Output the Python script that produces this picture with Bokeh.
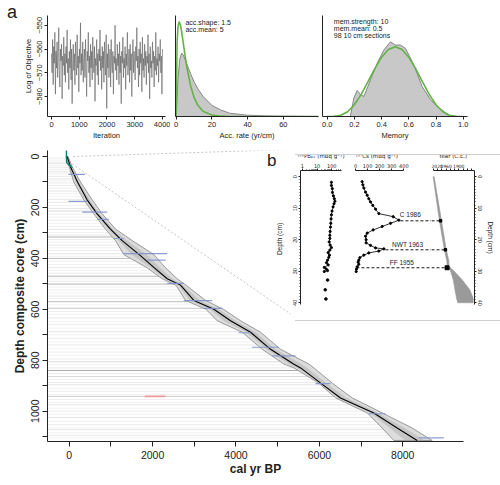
import numpy as np
from bokeh.plotting import figure
from bokeh.models import FixedTicker, Range1d, Label, Div, BasicTickFormatter
from bokeh.layouts import row, column
from bokeh.embed import file_html
from bokeh.resources import INLINE

FONT = "Liberation Sans"
INK = "#222222"

# ---------------- panel a: MCMC diagnostics ----------------
log_objective = [
    -562, -570, -556, -575, -559, -566, -553, -579, -561, -568, -557, -572, -564, -551, -569, -576, -560, -565, -558, -581,
    -563, -567, -555, -571, -562, -574, -559, -566, -552, -570, -564, -577, -561, -568, -556, -573, -560, -583, -565, -558,
    -569, -562, -575, -557, -566, -571, -554, -568, -563, -578, -560, -566, -549, -571, -562, -569, -557, -574, -564, -560,
    -572, -556, -567, -580, -561, -565, -553, -570, -563, -576, -558, -568, -561, -573, -555, -566, -570, -559, -582, -564,
    -567, -556, -571, -562, -575, -560, -565, -552, -569, -563, -577, -559, -568, -561, -574, -557, -566, -571, -554, -585,
    -562, -568, -558, -572, -565, -560, -576, -556, -567, -570, -561, -579, -563, -566, -550, -569, -564, -573, -558, -567,
    -562, -575, -557, -570, -563, -583, -561, -566, -555, -572, -564, -568, -559, -577, -562, -567, -553, -571, -565, -560,
    -574, -558, -569, -562, -580, -564, -556, -570, -561, -567, -573, -559, -565, -551, -568, -563, -576, -560, -571, -557,
    -566, -562, -578, -555, -569, -564, -572, -558, -567, -561, -575, -563, -566, -554, -570, -562, -581, -559, -568, -565,
    -572, -557, -566, -561, -576, -563, -569, -553, -571, -564, -567, -559, -574, -562, -565, -556, -570, -563, -579, -560,
]
iterations = np.linspace(0, 4000, len(log_objective))

acc_x = [0, 0.5, 1, 1.67, 2.5, 3, 4, 5, 6, 8, 10, 12, 15, 20, 25, 30, 40, 60, 80]
acc_prior = [0, 0.1128, 0.1374, 0.1452, 0.1385, 0.1306, 0.1117, 0.0925, 0.0751, 0.0476, 0.0292,
             0.0175, 0.0080, 0.0021, 0.0005, 0.0001, 0, 0, 0]
acc_post_x = [0, 0.5, 1, 2, 3, 4, 5, 6, 8, 10, 12, 15, 20, 25, 30, 40, 50, 60, 80]
acc_post = [0, 0.030, 0.058, 0.088, 0.097, 0.094, 0.087, 0.080, 0.066, 0.053, 0.043, 0.031,
            0.017, 0.010, 0.005, 0.002, 0.001, 0.0005, 0]

mem_x = [0, 0.05, 0.1, 0.15, 0.2, 0.25, 0.3, 0.35, 0.4, 0.45, 0.5,
         0.55, 0.6, 0.65, 0.7, 0.75, 0.8, 0.85, 0.9, 0.95, 1.0]
mem_prior = [0, 0.0032, 0.0413, 0.1665, 0.4129, 0.7787, 1.2252, 1.688, 2.090, 2.364, 2.461,
             2.364, 2.090, 1.688, 1.2252, 0.7787, 0.4129, 0.1665, 0.0413, 0.0032, 0]
mem_post_x = [0.17, 0.196, 0.22, 0.245, 0.27, 0.318, 0.368, 0.416, 0.465, 0.502, 0.539,
              0.576, 0.637, 0.698, 0.76, 0.82, 0.857, 0.894]
mem_post = [0, 0.65, 0.92, 0.77, 0.71, 1.29, 1.88, 2.34, 2.63, 2.52, 2.52,
            2.40, 1.82, 1.06, 0.59, 0.30, 0.19, 0.01]

# ---------------- age-depth model ----------------
model_depth = [0, 40, 100, 170, 225, 285, 330, 385, 435, 480, 505, 565, 600, 645, 690, 757, 815, 830, 890, 948, 1007, 1066, 1115]
model_median = [-50, 30, 200, 430, 670, 990, 1270, 1680, 2030, 2350, 2670, 2990, 3470, 3870, 4350, 4830, 5380, 5550, 6030, 6506, 7305, 7865, 8345]
model_lower = [-75, 0, 110, 350, 590, 870, 1110, 1310, 1850, 2230, 2560, 2790, 3280, 3550, 4150, 4630, 5150, 5390, 5985, 6390, 7150, 7505, 7785]
model_upper = [-25, 70, 271, 551, 791, 1113, 1510, 2030, 2300, 2590, 2800, 3270, 3700, 4110, 4590, 5070, 5750, 5870, 6310, 6790, 7510, 8225, 8705]
model_core_lo = [-62, 15, 155, 390, 630, 930, 1190, 1495, 1940, 2290, 2615, 2890, 3375, 3710, 4250, 4730, 5265, 5470, 6008, 6448, 7228, 7685, 8065]
model_core_hi = [-38, 50, 235, 490, 730, 1050, 1390, 1855, 2165, 2470, 2735, 3130, 3585, 3990, 4470, 4950, 5565, 5710, 6170, 6648, 7408, 8045, 8525]

date_depth = [70, 176, 218, 247, 322, 381, 407, 498, 566, 596, 692, 749, 783, 892, 1010, 1105]
date_age_lo = [-20, -17, 312, 671, 1063, 1303, 1870, 2350, 2748, 3221, 4060, 4388, 4868, 5906, 7185, 8384]
date_age_hi = [380, 440, 911, 950, 1303, 2350, 2310, 2748, 3429, 3669, 4350, 5026, 5427, 6266, 7585, 8983]
outlier_depth = [942]
outlier_age_lo = [1813]
outlier_age_hi = [2309]

pb_model_depth = [-35, 0, 23, 32, 43]
pb_model_age = [-66, -66, -62, -20, 79]

hatch_depth = [6, 14, 22, 28, 36, 44, 52, 60, 68, 78, 88, 96, 104, 114, 124, 136, 146, 158, 168, 180, 192, 204,
               214, 226, 238, 250, 262, 274, 286, 298, 308, 316, 326, 336, 348, 358, 370, 382, 392, 400, 412,
               424, 436, 448, 458, 470, 480, 490, 501, 512, 524, 536, 548, 558, 570, 582, 596, 608, 620, 634,
               648, 660, 674, 688, 700, 714, 728, 740, 754, 768, 782, 795, 806, 818, 830, 840, 852, 864, 876,
               888, 896, 910, 922, 934, 942, 954, 966, 975, 988, 1000, 1012, 1025, 1040, 1053, 1065, 1072,
               1085, 1095, 1105]
hatch_alpha = [0.08, 0.06, 0.08, 0.1, 0.06, 0.09, 0.07, 0.1, 0.06, 0.08, 0.1, 0.06, 0.08, 0.09, 0.06, 0.1, 0.07,
               0.06, 0.09, 0.08, 0.06, 0.1, 0.14, 0.07, 0.06, 0.09, 0.06, 0.08, 0.1, 0.06, 0.08, 0.3, 0.07,
               0.06, 0.09, 0.06, 0.08, 0.1, 0.06, 0.26, 0.07, 0.06, 0.08, 0.06, 0.08, 0.3, 0.06, 0.09, 0.3,
               0.06, 0.08, 0.06, 0.09, 0.07, 0.26, 0.06, 0.22, 0.08, 0.06, 0.09, 0.06, 0.08, 0.06, 0.1, 0.06,
               0.08, 0.06, 0.09, 0.06, 0.07, 0.06, 0.08, 0.15, 0.06, 0.09, 0.35, 0.08, 0.15, 0.06, 0.09, 0.1,
               0.06, 0.08, 0.06, 0.22, 0.07, 0.06, 0.1, 0.06, 0.08, 0.06, 0.1, 0.06, 0.09, 0.06, 0.1, 0.06,
               0.08, 0.06]

# ---------------- panel b: 210Pb / 137Cs / CRS ages ----------------
pb210_depth = [1.8, 2.8, 3.8, 5.0, 6.1, 7.0, 7.8, 8.6, 9.6, 10.9, 12.1, 13.4, 14.8, 16.0, 17.4, 18.6, 19.6,
               20.7, 21.7, 22.5, 23.3, 24.1, 24.9, 25.6, 26.5, 27.3, 28.0, 28.8, 29.3, 29.8, 30.1]
pb210_value = [95, 95, 110, 112, 130, 150, 165, 143, 123, 105, 95, 90, 86, 82, 78, 74, 74,
               67, 78, 95, 74, 57, 70, 63, 52, 44, 57, 31, 42, 52, 31]
pb210_deep_depth = [32.8, 35.9, 38.8]
pb210_deep_value = [52, 36, 40]

cs137_depth = [1.6, 2.6, 3.6, 4.9, 5.9, 7.0, 8.0, 9.1, 10.3, 11.7, 12.7, 13.8, 14.8, 15.8, 16.9, 17.9, 18.9,
               20.0, 21.0, 21.8, 22.6, 22.9, 23.6, 24.2, 24.9, 25.7, 26.5, 27.1, 27.8, 28.6, 29.3, 30.1]
cs137_value = [55, 61, 69, 83, 97, 110, 124, 143, 166, 193, 312, 359, 290, 221, 146, 97, 83,
               88, 88, 124, 166, 235, 193, 110, 69, 36, 27, 22, 27, 14, 8, 6]

year_band_depth = [0, 13.7, 22.8, 26.6, 28.5, 29.7, 32.8, 35.9, 38.5, 40]
year_band_young = [2021, 1992, 1969, 1957, 1954, 1940, 1926, 1918, 1911, 1905]
year_band_old = [2016, 1982, 1960, 1947, 1946, 1926, 1883, 1848, 1832, 1832]

event_label = ["C 1986", "NWT 1963", "FF 1955"]
event_depth = [14.0, 23.2, 28.9]
event_year = [1986, 1963, 1955]
event_cs = [372, 248, 8]
event_label_x = [367, 303, 283]
event_label_depth = [12.1, 21.6, 27.2]


def base_fig(**kw):
    p = figure(output_backend="svg", toolbar_location=None, **kw)
    p.grid.visible = False
    p.outline_line_color = None
    return p


def style_axis(ax, size, tick_out=4, standoff=3, title_size=None, bold=False, font=FONT):
    ax.axis_line_color = INK
    ax.axis_line_width = 1
    ax.major_tick_line_color = INK
    ax.major_tick_out = tick_out
    ax.major_tick_in = 0
    ax.minor_tick_line_color = None
    ax.major_label_text_font = font
    ax.major_label_text_font_size = size
    ax.major_label_text_color = INK
    ax.major_label_standoff = standoff
    ax.axis_label_text_font = font
    ax.axis_label_text_font_size = title_size or size
    ax.axis_label_text_font_style = "bold" if bold else "normal"
    ax.axis_label_text_color = INK
    ax.axis_label_standoff = 2


# ---- a1: trace ----
f1 = base_fig(width=170, height=142, x_range=Range1d(-144, 4108), y_range=Range1d(-588.4, -545.9),
              min_border_left=47, min_border_right=5, min_border_top=15, min_border_bottom=24)
f1.line(iterations, log_objective, line_color="#5c5c5c", line_width=0.6)
style_axis(f1.xaxis[0], "7.5px", tick_out=3, standoff=2)
style_axis(f1.yaxis[0], "7.5px", tick_out=3, standoff=2)
f1.xaxis.ticker = FixedTicker(ticks=[0, 1000, 2000, 3000, 4000])
f1.yaxis.ticker = FixedTicker(ticks=[-550, -560, -570, -580])
f1.xaxis.axis_label = "Iteration"
f1.yaxis.axis_label = "Log of Objective"
f1.xaxis.axis_label_standoff = 1
f1.yaxis.major_label_orientation = "vertical"

# ---- a2: accumulation rate ----
f2 = base_fig(width=150, height=142, x_range=Range1d(-0.39, 79.7), y_range=Range1d(0, 0.1545),
              min_border_left=5, min_border_right=2, min_border_top=15, min_border_bottom=24)
f2.varea(x=acc_post_x, y1=0, y2=acc_post, fill_color="#c8c8c8")
f2.line(acc_post_x, acc_post, line_color="#6e6e6e", line_width=0.8)
f2.line(acc_x, acc_prior, line_color="#62b345", line_width=1.6)
style_axis(f2.xaxis[0], "7.5px", tick_out=3, standoff=2)
style_axis(f2.yaxis[0], "7.5px", tick_out=0, standoff=0)
f2.xaxis.ticker = FixedTicker(ticks=[0, 20, 40, 60])
f2.yaxis.ticker = FixedTicker(ticks=[])
f2.xaxis.axis_label = "Acc. rate (yr/cm)"
f2.xaxis.axis_label_standoff = 1
for txt, yy in [("acc.shape: 1.5", 0.138), ("acc.mean: 5", 0.127)]:
    f2.add_layout(Label(x=5.2, y=yy, text=txt, text_font=FONT, text_font_size="7px", text_color=INK))

# ---- a3: memory ----
f3 = base_fig(width=172, height=142, x_range=Range1d(-0.0346, 1.0316), y_range=Range1d(0, 3.56),
              min_border_left=2, min_border_right=25, min_border_top=15, min_border_bottom=24)
f3.varea(x=mem_post_x, y1=0, y2=mem_post, fill_color="#c8c8c8")
f3.line(mem_post_x, mem_post, line_color="#6e6e6e", line_width=0.8)
f3.line(mem_x, mem_prior, line_color="#62b345", line_width=1.6)
style_axis(f3.xaxis[0], "7.5px", tick_out=3, standoff=2)
style_axis(f3.yaxis[0], "7.5px", tick_out=0, standoff=0)
f3.xaxis.ticker = FixedTicker(ticks=[0, 0.2, 0.4, 0.6, 0.8, 1.0])
f3.xaxis.major_label_overrides = {0: "0.0", 0.2: "0.2", 0.4: "0.4", 0.6: "0.6", 0.8: "0.8", 1: "1.0"}
f3.yaxis.ticker = FixedTicker(ticks=[])
f3.xaxis.axis_label = "Memory"
f3.xaxis.axis_label_standoff = 1
for txt, yy in [("mem.strength: 10", 3.24), ("mem.mean: 0.5", 2.98), ("98 10 cm sections", 2.72)]:
    f3.add_layout(Label(x=0.0485, y=yy, text=txt, text_font=FONT, text_font_size="7px", text_color=INK))

# ---- main age-depth plot ----
X0, X1 = -520, 9456
pm = base_fig(width=492, height=336, x_range=Range1d(X0, X1), y_range=Range1d(1119, -23.6),
              min_border_left=47, min_border_right=29, min_border_top=8, min_border_bottom=37)
hatch_end = np.interp(hatch_depth, model_depth, model_lower)
pm.segment(x0=[X0] * len(hatch_depth), y0=hatch_depth, x1=hatch_end, y1=hatch_depth,
           line_color="black", line_alpha=hatch_alpha, line_width=1.0)
pm.patch(x=model_lower + model_upper[::-1], y=model_depth + model_depth[::-1],
         fill_color="#dcdcdc", line_color="#858585", line_width=0.8)
pm.patch(x=model_core_lo + model_core_hi[::-1], y=model_depth + model_depth[::-1],
         fill_color="#a8a8a8", fill_alpha=0.45, line_color=None)
pm.line(model_median, model_depth, line_color="black", line_width=1.1)
pm.segment(x0=date_age_lo, y0=date_depth, x1=date_age_hi, y1=date_depth,
           line_color="#8094cc", line_width=1.2, line_alpha=0.9)
pm.segment(x0=outlier_age_lo, y0=outlier_depth, x1=outlier_age_hi, y1=outlier_depth,
           line_color="#f29a9a", line_width=1.6)
pm.line(pb_model_age, pb_model_depth, line_color="#00857c", line_width=1.4)
# zoom connectors to panel b
pm.line([100, 5200], [0, -27], line_color="#b8b8b8", line_dash="2 2", line_width=0.8)
pm.line([70, 5380], [29, 626], line_color="#b8b8b8", line_dash="2 2", line_width=0.8)
style_axis(pm.xaxis[0], "10.5px", tick_out=5, standoff=4, title_size="12px", bold=True)
style_axis(pm.yaxis[0], "10.5px", tick_out=5, standoff=3, title_size="12px", bold=True)
pm.xaxis.ticker = FixedTicker(ticks=list(range(0, 8001, 1000)))
pm.xaxis.major_label_overrides = {1000: "", 3000: "", 5000: "", 7000: ""}
pm.yaxis.ticker = FixedTicker(ticks=list(range(0, 1101, 100)))
pm.yaxis.major_label_overrides = {100: "", 300: "", 500: "", 700: "", 900: "", 1100: ""}
pm.yaxis.major_label_orientation = "vertical"
pm.xaxis.axis_label = "cal yr BP"
pm.yaxis.axis_label = "Depth composite core (cm)"
pm.xaxis.axis_label_standoff = 0

# ---- inset b ----
DEPTH_RANGE = Range1d(40.56, -1.96)
depth_ticker = FixedTicker(ticks=[0, 10, 20, 30, 40], minor_ticks=list(range(0, 41)))

g1 = base_fig(width=57, height=167, x_axis_type="log", x_range=Range1d(0.736, 464), y_range=DEPTH_RANGE,
              x_axis_location="above", min_border_left=9, min_border_right=6, min_border_top=18,
              min_border_bottom=12)
g1.line(pb210_value, pb210_depth, line_color="black", line_width=0.7)
g1.scatter(pb210_value, pb210_depth, size=2.2, color="black")
g1.scatter(pb210_deep_value, pb210_deep_depth, size=2.6, color="black")
style_axis(g1.xaxis[0], "5px", tick_out=2, standoff=1, title_size="5.5px", font="DejaVu Sans")
style_axis(g1.yaxis[0], "5.5px", tick_out=2, standoff=1, title_size="6.5px")
g1.xaxis.ticker = FixedTicker(ticks=[1, 10, 100], minor_ticks=[2, 3, 4, 5, 6, 7, 8, 9, 20, 30, 40, 50, 60, 70, 80, 90, 200, 300, 400])
g1.xaxis.formatter = BasicTickFormatter()
g1.xaxis.minor_tick_line_color = INK
g1.xaxis.minor_tick_out = 1
g1.xaxis.axis_label = "²¹⁰Pbₑₓ (mBq g⁻¹)"
g1.yaxis.ticker = depth_ticker
g1.yaxis.minor_tick_line_color = INK
g1.yaxis.minor_tick_out = 1
g1.yaxis.major_label_orientation = "vertical"

CS_END = 629
g2 = base_fig(width=84, height=167, x_range=Range1d(-16.6, CS_END), y_range=DEPTH_RANGE,
              x_axis_location="above", y_axis_location=None, min_border_left=6, min_border_right=0,
              min_border_top=18, min_border_bottom=12)
g2.line(cs137_value, cs137_depth, line_color="black", line_width=0.8)
g2.scatter(cs137_value, cs137_depth, size=2.2, color="black")
g2.segment(x0=event_cs, y0=event_depth, x1=[CS_END] * 3, y1=event_depth,
           line_color="black", line_dash="3 2", line_width=0.9)
g2.text(x=event_label_x, y=event_label_depth, text=event_label, text_font_size="6.5px",
        text_baseline="middle", text_color=INK)
style_axis(g2.xaxis[0], "5px", tick_out=2, standoff=1, title_size="5.5px", font="DejaVu Sans")
g2.xaxis.ticker = FixedTicker(ticks=[0, 100, 200, 300, 400])
g2.xaxis.bounds = (0, 400)
g2.xaxis.axis_label = "¹³⁷Cs (mBq g⁻¹)" + "\u00a0" * 18

YEAR_START = 2028.6
g3 = base_fig(width=65, height=167, x_range=Range1d(YEAR_START, 1825.8), y_range=DEPTH_RANGE,
              x_axis_location="above", y_axis_location="right", min_border_left=0, min_border_right=18,
              min_border_top=18, min_border_bottom=12)
g3.patch(x=year_band_young + year_band_old[::-1], y=year_band_depth + year_band_depth[::-1],
         fill_color="#9a9a9a", line_color="#9a9a9a", line_width=0.6)
g3.segment(x0=[YEAR_START] * 3, y0=event_depth, x1=event_year, y1=event_depth,
           line_color="black", line_dash="3 2", line_width=0.9)
g3.scatter(event_year[:2], event_depth[:2], marker="square", size=2.5, color="black")
g3.scatter(event_year[2:], event_depth[2:], marker="square", size=4, color="black")
style_axis(g3.xaxis[0], "4.5px", tick_out=2, standoff=1, title_size="5.5px", font="DejaVu Sans")
style_axis(g3.yaxis[0], "5.5px", tick_out=2, standoff=1, title_size="6.5px")
g3.xaxis.ticker = FixedTicker(ticks=list(range(1840, 2021, 20)))
g3.xaxis.major_label_overrides = {y: "" for y in range(1840, 2021, 20) if y not in (2020, 1960, 1900)}
g3.xaxis.bounds = (1826, 2020)
g3.xaxis.axis_label = "Year (C.E.)"
g3.yaxis.ticker = depth_ticker
g3.yaxis.minor_tick_line_color = INK
g3.yaxis.minor_tick_out = 1
g3.yaxis.major_label_orientation = "vertical"
g3.yaxis.axis_label = "Depth (cm)"

inset = row(g1, g2, g3, styles={"position": "absolute", "left": "290px", "top": "149px"})
box = Div(text="", width=206, height=167,
          styles={"position": "absolute", "left": "290px", "top": "149px",
                  "border-top": "1px solid #cfcfcf", "border-right": "1px solid #cfcfcf",
                  "border-bottom": "1px solid #cfcfcf", "box-sizing": "border-box",
                  "pointer-events": "none"})


def text_div(txt, left, top, size, width=None, height=None, extra=None):
    st = {"position": "absolute", "left": f"{left}px", "top": f"{top}px",
          "font-family": FONT, "font-size": f"{size}px", "line-height": f"{size}px",
          "color": INK, "margin": "0", "padding": "0", "white-space": "nowrap"}
    if extra:
        st.update(extra)
    kw = {}
    if width:
        kw["width"] = width
    if height:
        kw["height"] = height
    return Div(text=txt, styles=st, **kw)


label_a = text_div("a", 7, 3, 18)
label_b = text_div("b", 267, 152, 17)
label_depth_b = text_div("Depth (cm)", 261, 235, 6.5, width=40, height=8,
                         extra={"transform": "rotate(-90deg)", "transform-origin": "50% 50%",
                                "text-align": "center"})

layout = column(row(f1, f2, f3), pm, inset, box, label_a, label_b, label_depth_b)

open("out.html", "w").write(file_html(layout, INLINE))
